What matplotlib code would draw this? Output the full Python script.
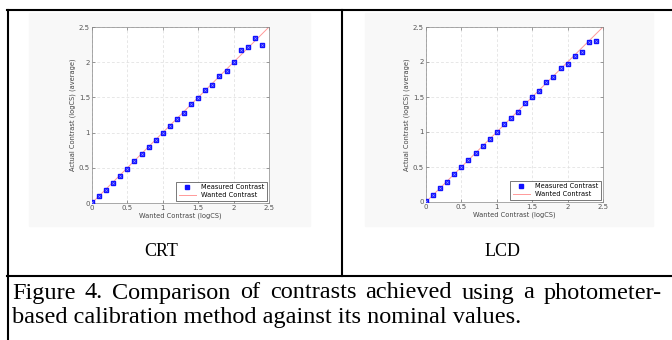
import numpy as np
import matplotlib.pyplot as plt
from matplotlib.patches import Rectangle
from matplotlib.lines import Line2D

# wanted contrast steps (logCS)
wanted = [0.0, 0.1, 0.2, 0.3, 0.4, 0.5, 0.6, 0.7, 0.8, 0.9, 1.0, 1.1, 1.2,
          1.3, 1.4, 1.5, 1.6, 1.7, 1.8, 1.9, 2.0, 2.1, 2.2, 2.3, 2.4]

# measured contrast, CRT
crt = [0.02, 0.10, 0.19, 0.29, 0.39, 0.49, 0.59, 0.69, 0.79, 0.89, 0.99, 1.10, 1.20,
       1.28, 1.40, 1.49, 1.60, 1.68, 1.81, 1.87, 2.00, 2.18, 2.21, 2.34, 2.25]

# measured contrast, LCD
lcd = [0.01, 0.10, 0.20, 0.29, 0.40, 0.50, 0.60, 0.70, 0.80, 0.90, 1.00, 1.11, 1.20,
       1.29, 1.42, 1.50, 1.59, 1.72, 1.79, 1.92, 1.97, 2.08, 2.14, 2.28, 2.30]

ideal = [0.0, 2.5]
ticks = [0, 0.5, 1, 1.5, 2, 2.5]
tick_labels = ['0', '0.5', '1', '1.5', '2', '2.5']
panel_names = ['CRT', 'LCD']
caption_1 = "Figure 4. Comparison of contrasts achieved using a photometer-"
caption_2 = "based calibration method against its nominal values."

W, H = 672, 340
fig = plt.figure(figsize=(W/100, H/100), dpi=100)
fig.patch.set_facecolor('white')

def fx(px):
    return px / W

def fy(py):
    return 1 - py / H

# light gray figure backgrounds (the embedded matlab figures)
for x0, x1 in [(29, 310), (365, 653)]:
    fig.patches.append(Rectangle((fx(x0), fy(226)), fx(x1 - x0), (226 - 13) / H,
                                 transform=fig.transFigure, color='#f8f8f8', zorder=-5))

def draw_panel(ax, measured):
    ax.plot(wanted, measured, 's', color='#1010ff', markersize=2.6, mec='#1010ff',
            label='Measured Contrast', zorder=3)
    ax.plot(wanted, measured, 'x', color='#9090ff', markersize=1.6, mew=0.5, zorder=4)
    ax.plot(ideal, ideal, '-', color='#ff9999', lw=0.7, label='Wanted Contrast', zorder=2)
    ax.set_xlim(0, 2.5)
    ax.set_ylim(0, 2.5)
    ax.set_xticks(ticks)
    ax.set_yticks(ticks)
    ax.set_xticklabels(tick_labels)
    ax.set_yticklabels(tick_labels)
    ax.tick_params(direction='in', labelsize=5, length=2, width=0.4, pad=1.5,
                   top=True, right=True, colors='#555555')
    ax.grid(True, ls=(0, (4, 3)), color='#dddddd', lw=0.5)
    for s in ax.spines.values():
        s.set_linewidth(0.5)
        s.set_color('#888888')
    ax.set_xlabel('Wanted Contrast (logCS)', fontsize=4.8, labelpad=1, color='#444444')
    ax.set_ylabel('Actual Contrast (logCS) (average)', fontsize=4.8, labelpad=2, color='#444444')
    handles = [Line2D([], [], ls='none', marker='s', color='#1010ff', markersize=2.6),
               Line2D([], [], color='#ff9999', lw=0.7)]
    leg = ax.legend(handles, ['Measured Contrast', 'Wanted Contrast'], loc='lower right',
                    fontsize=4.8, fancybox=False, framealpha=1, borderpad=0.4,
                    handlelength=2.5, labelspacing=0.3, borderaxespad=0.3)
    leg.get_frame().set_edgecolor('#444444')
    leg.get_frame().set_linewidth(0.5)

ax1 = fig.add_axes([fx(92), fy(203), fx(177), 176 / H])
draw_panel(ax1, crt)
ax2 = fig.add_axes([fx(426), fy(202), fx(177), 175 / H])
draw_panel(ax2, lcd)

fig.text(fx(161), fy(252), panel_names[0], fontsize=13, family='Liberation Serif',
         ha='center', va='center')
fig.text(fx(503), fy(252), panel_names[1], fontsize=13, family='Liberation Serif',
         ha='center', va='center')

# table borders
lw = 1.5
fig.add_artist(Line2D([fx(7), fx(672)], [fy(10), fy(10)], color='black', lw=lw))
fig.add_artist(Line2D([fx(7.5), fx(7.5)], [fy(10), fy(340)], color='black', lw=lw))
fig.add_artist(Line2D([fx(342), fx(342)], [fy(10), fy(276)], color='black', lw=lw))
fig.add_artist(Line2D([fx(7), fx(672)], [fy(276), fy(276)], color='black', lw=lw))

# caption, first line justified between x=12 and x=662
cap_size = 17.5
fig.canvas.draw()
renderer = fig.canvas.get_renderer()
words = caption_1.split(' ')
wtexts = [fig.text(0, fy(293), w, fontsize=cap_size, family='Liberation Serif', va='center')
          for w in words]
widths = [t.get_window_extent(renderer).width for t in wtexts]
gap = (650 - sum(widths)) / (len(words) - 1)
x = 12
for t, w in zip(wtexts, widths):
    t.set_x(fx(x))
    x += w + gap
fig.text(fx(12), fy(318), caption_2, fontsize=cap_size, family='Liberation Serif', va='center')

fig.savefig('out.png', dpi=100)
